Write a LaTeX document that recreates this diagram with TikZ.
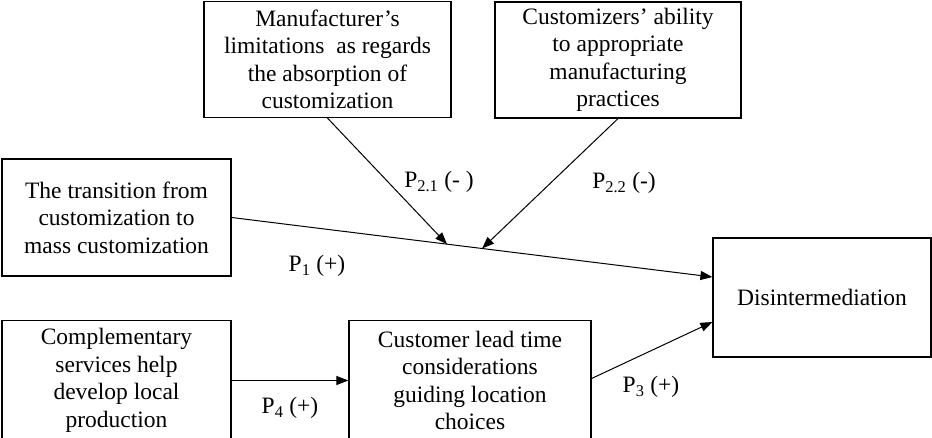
\documentclass[tikz,border=0pt]{standalone}
\usepackage{fontspec}
\setmainfont{Liberation Serif}
\usetikzlibrary{arrows.meta,calc}
\begin{document}
\begin{tikzpicture}[x=1pt,y=-1pt,
  every node/.style={font=\fontsize{23.5}{27.5}\selectfont},
  box/.style={draw,line width=1.2pt,align=center,inner sep=0pt},
  conn/.style={line width=1pt,-{Triangle[length=12pt,width=9pt]}},
  lab/.style={inner sep=0pt}]
\useasboundingbox (0,0) rectangle (932,438);
\node[box,minimum width=247,minimum height=116] (A) at (327.5,59.5)
  {Manufacturer’s\\limitations\ \ as regards\\the absorption of\\customization};
\node[box,minimum width=246,minimum height=116] (F) at (618,60)
  {Customizers’ ability\\to appropriate\\manufacturing\\practices};
\node[box,minimum width=229,minimum height=117] (B) at (116.5,217.5)
  {The transition from\\customization to\\mass customization};
\node[box,minimum width=229,minimum height=120] (C) at (116.5,380.5)
  {Complementary\\services help\\develop local\\production};
\node[box,minimum width=242,minimum height=120] (D) at (470,380.5)
  {Customer lead time\\considerations\\guiding location\\choices};
\node[box,minimum width=218,minimum height=119] (E) at (822,297.5)
  {Disintermediation};
\coordinate (Ein1) at ($(E.west)+(0,-20.5)$);
\coordinate (Ein2) at ($(E.west)+(0,24.5)$);
\path (B.east) -- (Ein1) coordinate[pos=0.448] (j1) coordinate[pos=0.521] (j2);
\draw[conn] (B.east) -- (Ein1);
\draw[conn] (A.south) -- (j1);
\draw[conn] (F.south) -- (j2);
\draw[conn] (C.east) -- (D.west);
\draw[conn] ($(D.east)+(0,-2)$) -- (Ein2);
\node[lab] (l21) at (439,182) {P\textsubscript{2.1} (- )};
\node[lab] (l22) at (624,183) {P\textsubscript{2.2} (-)};
\node[lab] (l1) at (317,266) {P\textsubscript{1} (+)};
\node[lab] (l4) at (290,408) {P\textsubscript{4} (+)};
\node[lab] (l3) at (651,387) {P\textsubscript{3} (+)};
\end{tikzpicture}
\end{document}
